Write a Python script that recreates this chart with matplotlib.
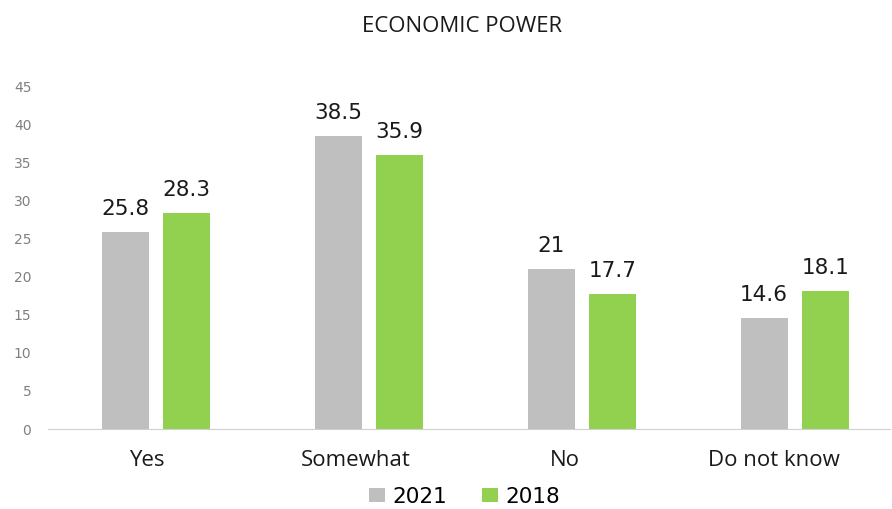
import numpy as np
import matplotlib.pyplot as plt

categories = ['Yes', 'Somewhat', 'No', 'Do not know']
values_2021 = [25.8, 38.5, 21, 14.6]
values_2018 = [28.3, 35.9, 17.7, 18.1]
yticks = list(range(0, 50, 5))

plt.rcParams['font.family'] = ['Open Sans', 'DejaVu Sans']

fig = plt.figure(figsize=(8.92, 5.09), dpi=100)
ax = fig.add_axes([0.0538, 0.157, 0.944, 0.674])

x = np.arange(len(categories))
width = 0.22
offset = 0.144

bars_a = ax.bar(x - offset, values_2021, width, color='#BFBFBF', label='2021')
bars_b = ax.bar(x + offset, values_2018, width, color='#92D050', label='2018')

# value labels above each bar
for bars, vals in [(bars_a, values_2021), (bars_b, values_2018)]:
    for b, v in zip(bars, vals):
        ax.text(b.get_x() + b.get_width() / 2, v + 1.7, f'{v:g}',
                ha='center', va='bottom', fontsize=15.5, color='#1a1a1a',
                family='DejaVu Sans')

ax.set_xlim(-0.506, 3.447)
ax.set_ylim(0, 45)
ax.set_yticks(yticks)
ax.set_yticklabels([str(t) for t in yticks], fontsize=10, color='#808080',
                   family='DejaVu Sans')
# category labels sit slightly left of the bar groups
ax.set_xticks(x * 0.98 - 0.04)
ax.set_xticklabels(categories, fontsize=16, color='#1a1a1a')
ax.tick_params(axis='both', length=0)
ax.tick_params(axis='y', pad=12)
ax.tick_params(axis='x', pad=15)

for side in ['top', 'right', 'left']:
    ax.spines[side].set_visible(False)
ax.spines['bottom'].set_color('#D0D0D0')

fig.text(0.518, 0.948, 'ECONOMIC POWER', ha='center', va='center',
         fontsize=16, color='#1a1a1a')

fig.legend(loc='center', bbox_to_anchor=(0.521, 0.024), ncol=2, frameon=False,
           prop={'family': 'DejaVu Sans', 'size': 15.5},
           handlelength=0.75, handleheight=0.6, handletextpad=0.35,
           columnspacing=1.6)

fig.savefig('out.png', dpi=100)
